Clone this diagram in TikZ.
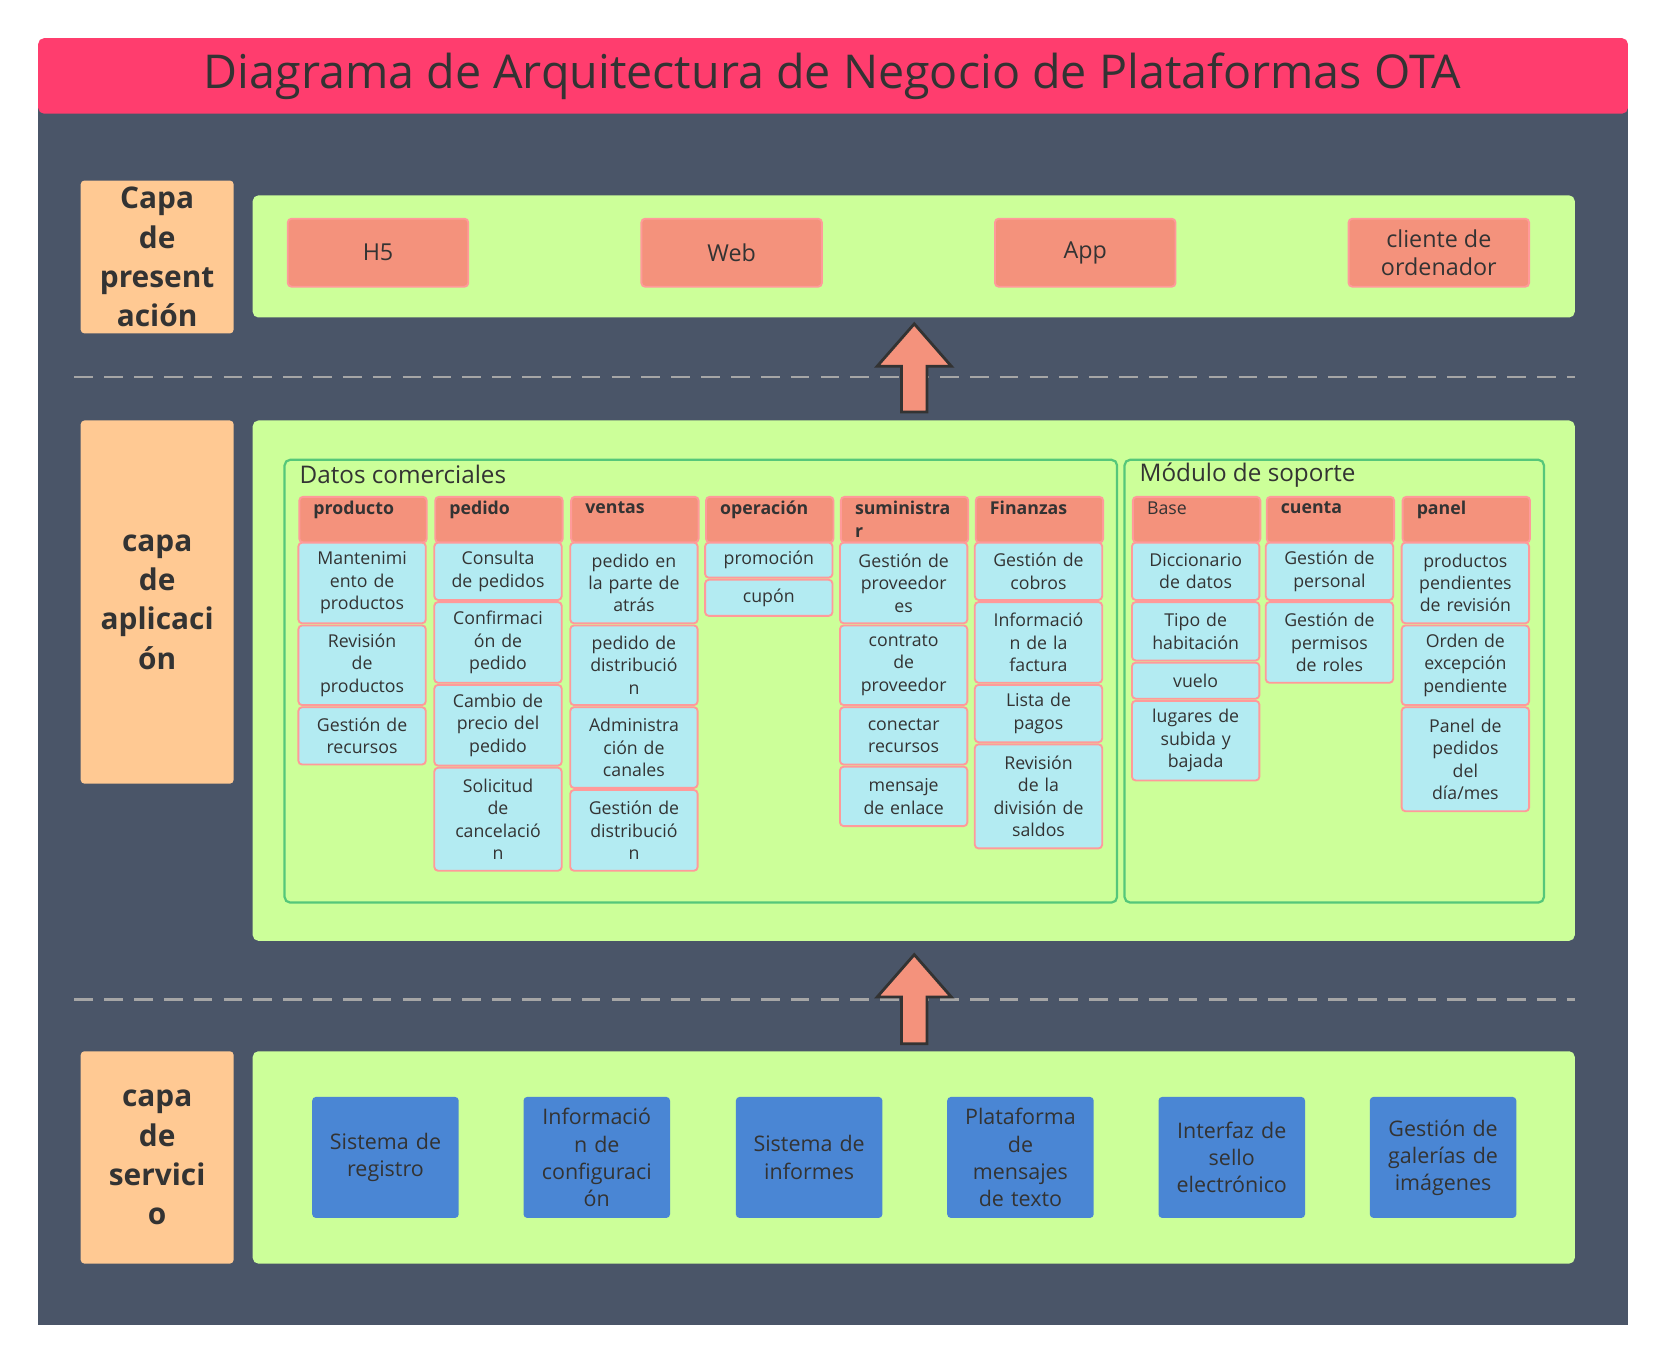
\documentclass[tikz,border=0pt]{standalone}
\usepackage{fontspec}
\setmainfont{Open Sans}
\usepackage{tikz}
\usetikzlibrary{positioning,arrows.meta,calc}
\definecolor{FondoOscuro}{HTML}{4A5568}
\definecolor{TituloRosa}{HTML}{FF3D6E}
\definecolor{CapaNaranja}{HTML}{FFC993}
\definecolor{PanelVerde}{HTML}{CCFF99}
\definecolor{MarcoVerde}{HTML}{55C77A}
\definecolor{Salmon}{HTML}{F4927C}
\definecolor{BordeRosa}{HTML}{FF9A9A}
\definecolor{CeldaAzul}{HTML}{B3EBF2}
\definecolor{ServAzul}{HTML}{4A86D4}
\definecolor{Texto}{HTML}{333333}
\tikzset{
  capa/.style={align=center, text=Texto, font=\bfseries\fontsize{16}{21}\selectfont},
  panel/.style={fill=PanelVerde, rounded corners=3pt},
  marco/.style={draw=MarcoVerde, line width=1.2pt, rounded corners=3pt},
  boton/.style={fill=Salmon, draw=BordeRosa, line width=1pt, rounded corners=2pt, align=center,
    text=Texto, minimum width=170*0.02cm, minimum height=64*0.02cm, font=\fontsize{12.5}{15}\selectfont},
  cabecera/.style={fill=Salmon, draw=BordeRosa, line width=1pt, rounded corners=2pt, inner sep=0pt},
  celda/.style={fill=CeldaAzul, draw=BordeRosa, line width=1pt, rounded corners=2pt, align=center,
    text=Texto, text width=112*0.02cm, inner sep=0pt, font=\fontsize{9.5}{12}\selectfont},
  servicio/.style={fill=ServAzul, rounded corners=2pt, align=center, text=Texto,
    minimum width=138*0.02cm, minimum height=114*0.02cm, text width=125*0.02cm,
    font=\fontsize{11.5}{14.5}\selectfont},
  flecha/.style={fill=Salmon, draw=Texto, line width=1.5pt, line join=miter},
  separador/.style={draw=gray!70, dashed, dash pattern=on 10pt off 6pt, line width=1.5pt}
}
% columna: nombre, x izquierda, titulo, lista de celdas
\newcommand{\columna}[4]{%
  \node[cabecera, minimum width=120*0.02cm, minimum height=43*0.02cm, anchor=north west] (#1) at (#2,467) {};
  \node[anchor=north west, text=Texto, font=\bfseries\fontsize{9.5}{12}\selectfont, align=left]
    at ($(#2,467)+(8,-1)$) {#3};
  \foreach \a/\b/\t [count=\i] in {#4}{
    \node[celda, minimum width=120*0.02cm, minimum height={(\b-\a)*0.02cm}]
      (#1-\i) at (#2+60,{(\a+\b)/2}) {\t};
  }%
}
\begin{document}
\begin{tikzpicture}[x=0.02cm, y=-0.02cm]
  \useasboundingbox (0,0) rectangle (1568,1283);
  \fill[white] (0,0) rectangle (1568,1283);
  % fondo y titulo
  \fill[FondoOscuro] (36,100) rectangle (1533,1248);
  \fill[TituloRosa, rounded corners=3pt] (36,36) rectangle (1533,107);
  \node[text=Texto, font=\fontsize{25}{30}\selectfont] (titulo) at (784,72)
    {Diagrama de Arquitectura de Negocio de Plataformas OTA};
  % separadores
  \draw[separador] (70,355) -- (1483,355);
  \draw[separador] (70,941) -- (1483,941);
  % etiquetas de capa
  \fill[CapaNaranja, rounded corners=2pt] (76,170) rectangle (220,314);
  \node[capa] (presentacion) at (148,242) {Capa\\de\\present\\ación};
  \fill[CapaNaranja, rounded corners=2pt] (76,396) rectangle (220,738);
  \node[capa] (aplicacion) at (148,567) {capa\\de\\aplicaci\\ón};
  \fill[CapaNaranja, rounded corners=2pt] (76,990) rectangle (220,1190);
  \node[capa] (servicio) at (148,1090) {capa\\de\\servici\\o};
  % paneles
  \fill[panel] (238,184) rectangle (1483,299);
  \fill[panel] (238,396) rectangle (1483,886);
  \fill[panel] (238,990) rectangle (1483,1190);
  % capa de presentacion
  \node[boton] (h5) at (356,238) {H5};
  \node[boton] (web) at (689,238) {Web};
  \node[boton] (app) at (1022,238) {App};
  \node[boton] (pc) at (1355,238) {cliente de\\ordenador};
  % flechas
  \draw[flecha] (849,388) -- (849,345) -- (826,345) -- (861,305) -- (896,345)
    -- (873,345) -- (873,388) -- cycle;
  \draw[flecha] (849,983) -- (849,939) -- (826,939) -- (861,899) -- (896,939)
    -- (873,939) -- (873,983) -- cycle;
  % marcos
  \draw[marco] (268,433) rectangle (1052,850);
  \node[anchor=west, text=Texto, font=\fontsize{13}{15}\selectfont] (comerciales) at (276,447) {Datos comerciales};
  \draw[marco] (1059,433) rectangle (1454,850);
  \node[anchor=west, text=Texto, font=\fontsize{13}{15}\selectfont] (soporte) at (1067,447) {Módulo de soporte};
  % columnas de datos comerciales
  \columna{producto}{281}{producto}{511/587/{Mantenimi\\ento de\\productos}, 589/664/{Revisión\\de\\productos}, 666/720/{Gestión de\\recursos}}
  \columna{pedido}{409}{pedido}{511/565/{Consulta\\de pedidos}, 567/643/{Confirmaci\\ón de\\pedido}, 645/721/{Cambio de\\precio del\\pedido}, 723/820/{Solicitud\\de\\cancelació\\n}}
  \columna{ventas}{537}{ventas}{511/587/{pedido en\\la parte de\\atrás}, 589/664/{pedido de\\distribució\\n}, 666/742/{Administra\\ción de\\canales}, 744/820/{Gestión de\\distribució\\n}}
  \columna{operacion}{664}{operación}{511/544/{promoción}, 546/580/{cupón}}
  \columna{suministrar}{791}{suministra\\r}{511/587/{Gestión de\\proveedor\\es}, 589/664/{contrato\\de\\proveedor}, 666/720/{conectar\\recursos}, 722/778/{mensaje\\de enlace}}
  \columna{finanzas}{918}{Finanzas}{511/565/{Gestión de\\cobros}, 567/643/{Informació\\n de la\\factura}, 645/699/{Lista de\\pagos}, 701/799/{Revisión\\de la\\división de\\saldos}}
  % columnas de soporte
  \columna{base}{1066}{\mdseries Base}{511/565/{Diccionario\\de datos}, 567/622/{Tipo de\\habitación}, 624/658/{vuelo}, 660/735/{lugares de\\subida y\\bajada}}
  \columna{cuenta}{1192}{cuenta}{511/565/{Gestión de\\personal}, 567/643/{Gestión de\\permisos\\de roles}}
  \columna{panel}{1320}{panel}{511/587/{productos\\pendientes\\de revisión}, 589/664/{Orden de\\excepción\\pendiente}, 666/764/{Panel de\\pedidos\\del\\día/mes}}
  % capa de servicio
  \node[servicio] (registro) at (363,1090) {Sistema de\\registro};
  \node[servicio] (config) at (562,1090) {Informació\\n de\\configuraci\\ón};
  \node[servicio] (informes) at (762,1090) {Sistema de\\informes};
  \node[servicio] (mensajes) at (961,1090) {Plataforma\\de\\mensajes\\de texto};
  \node[servicio] (sello) at (1160,1090) {Interfaz de\\sello\\electrónico};
  \node[servicio] (galerias) at (1359,1090) {Gestión de\\galerías de\\imágenes};
\end{tikzpicture}
\end{document}
